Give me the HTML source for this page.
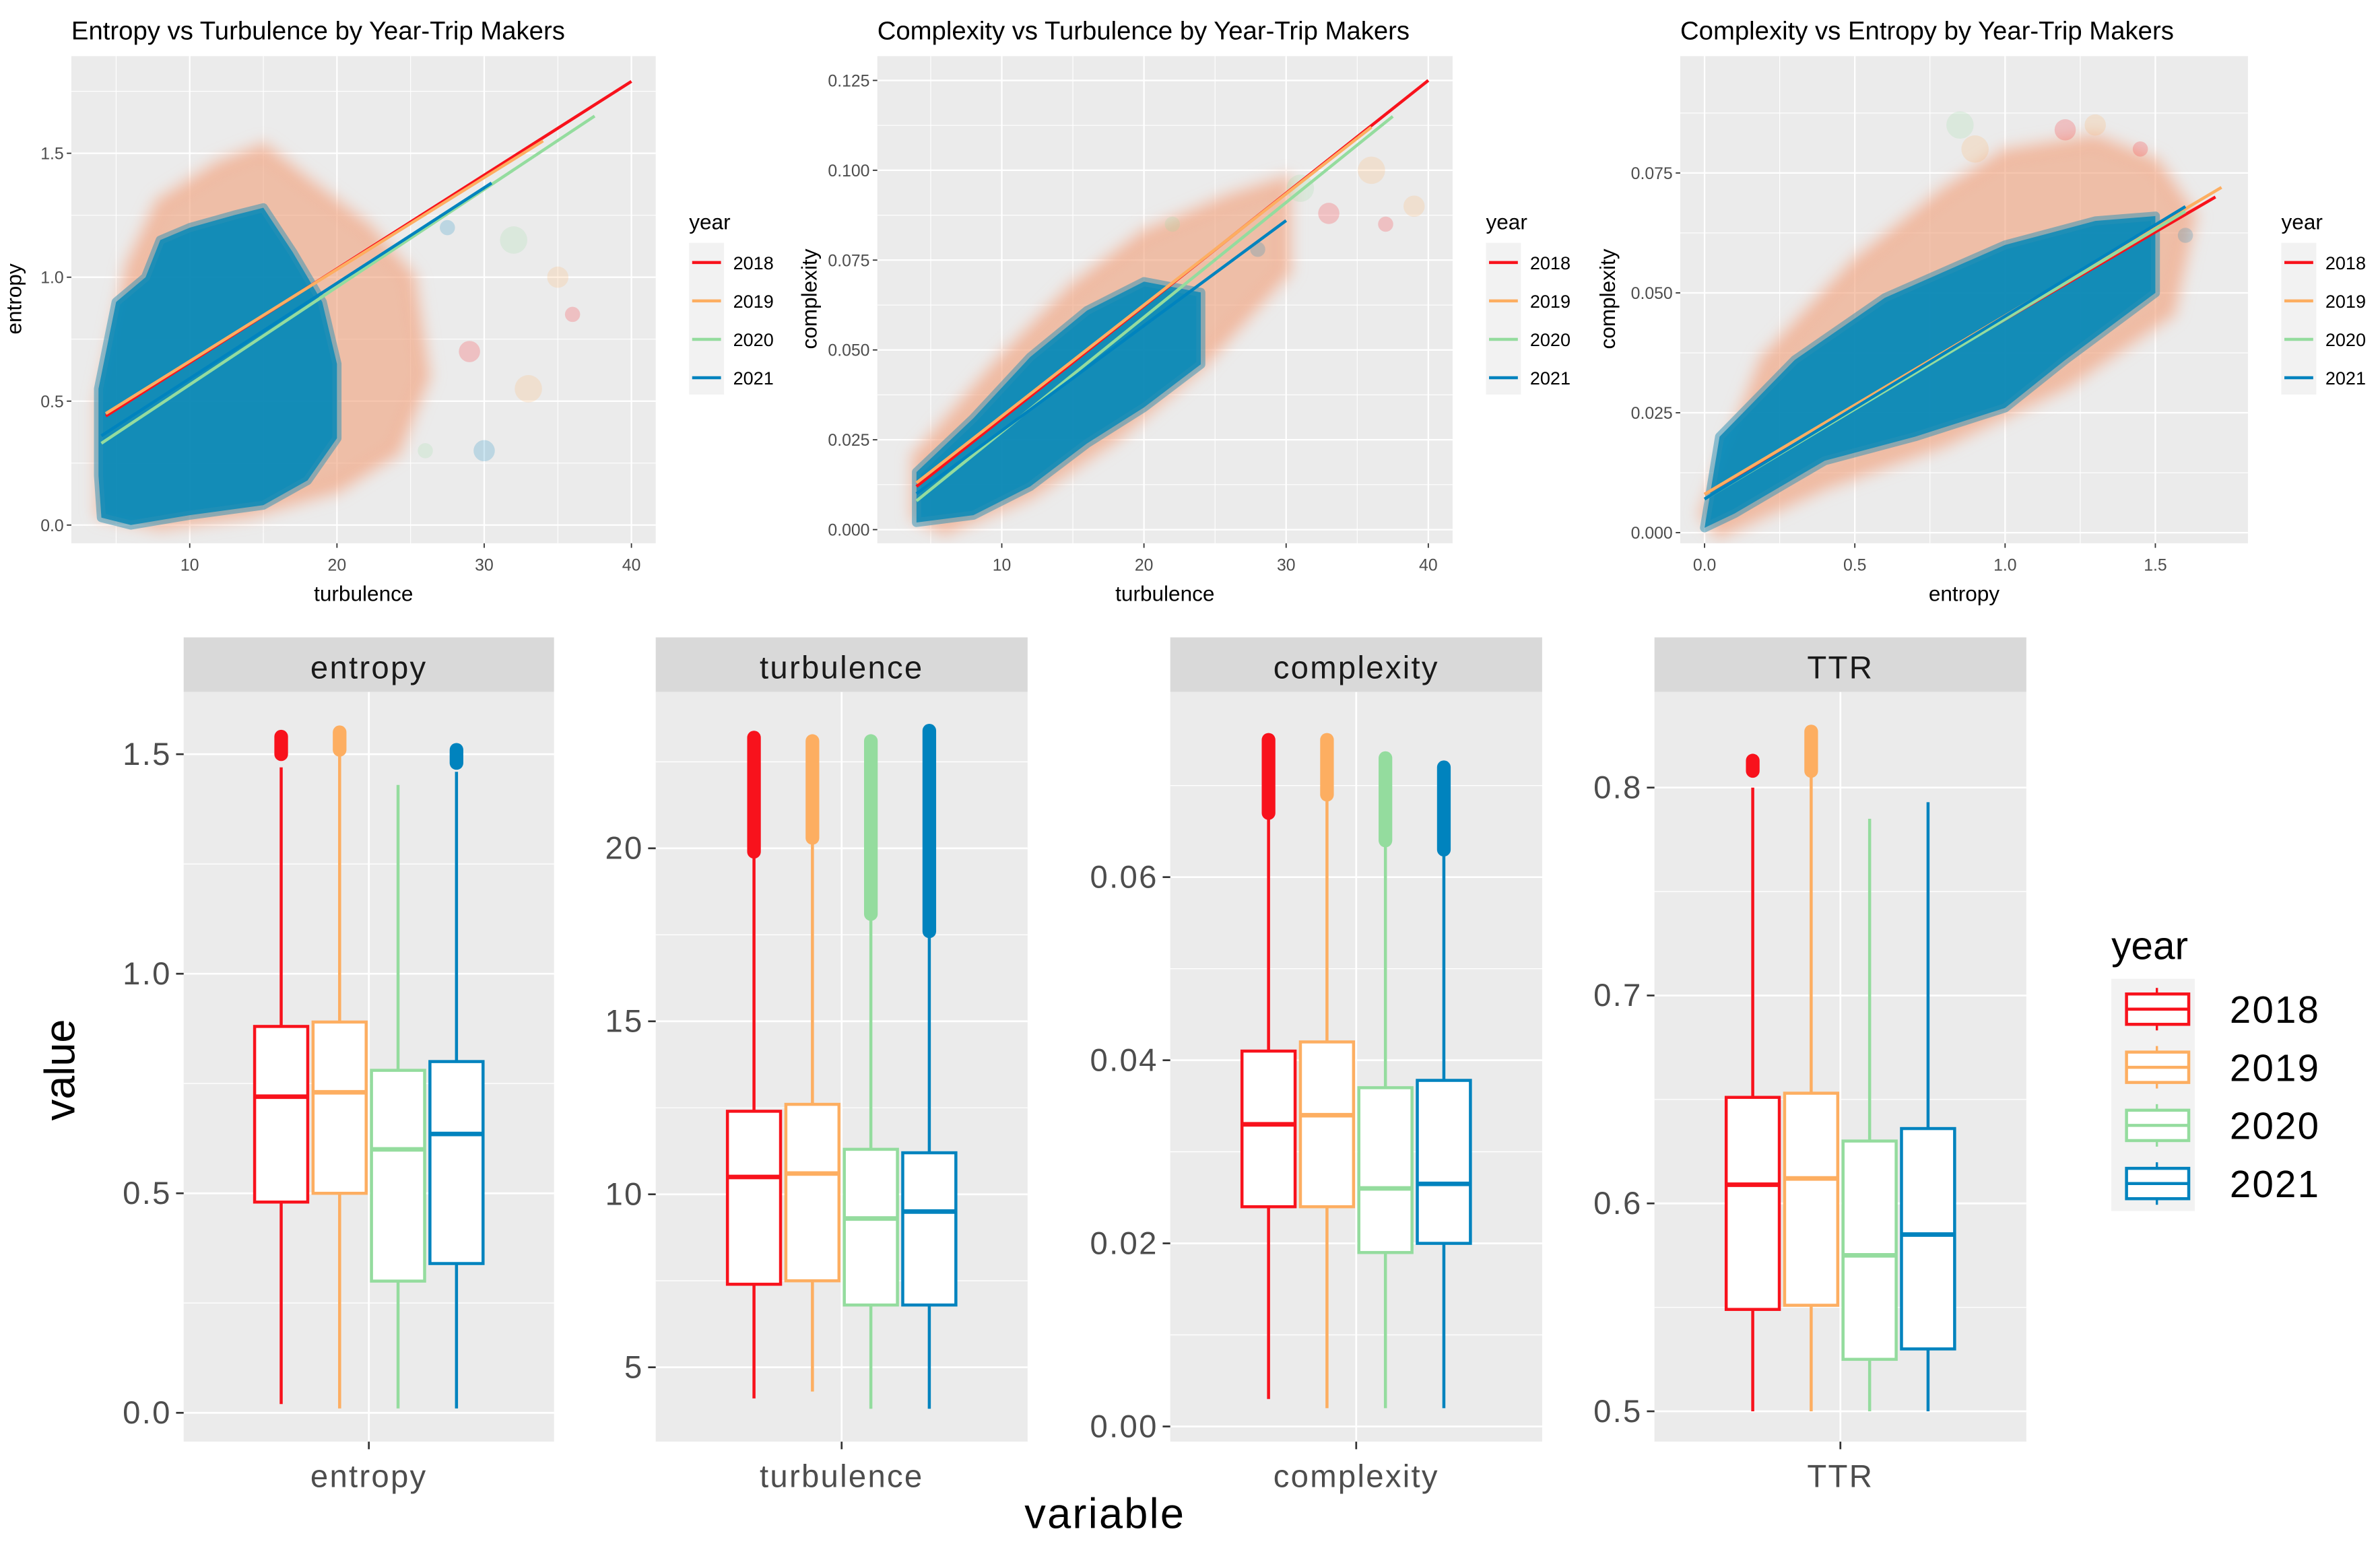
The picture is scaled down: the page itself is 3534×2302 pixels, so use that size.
<!DOCTYPE html>
<html><head><meta charset="utf-8">
<style>
html,body{margin:0;padding:0;background:#fff;}
svg{display:block;}
text{font-family:"Liberation Sans",sans-serif;}
.n{font-family:"Liberation Sans Narrow","Liberation Sans",sans-serif;}
</style></head>
<body>
<svg id="chart" width="3534" height="2302" viewBox="0 0 1568 1021.4" preserveAspectRatio="none" xmlns="http://www.w3.org/2000/svg"></svg>
<script>
// ---------- data ----------
const years = ["2018","2019","2020","2021"];
const colors = ["#f8121c","#fdae61","#94dc9e","#0083be"];

// scatter trend lines [x0,y0,x1,y1] per year
const lineEnt = [[4.3,0.44,40,1.79],[4.3,0.45,34,1.55],[4,0.33,37.5,1.65],[4,0.36,30.5,1.38]];
const lineCplxT = [[4,0.012,40,0.125],[4,0.013,36,0.112],[4,0.008,37.5,0.115],[4,0.010,30,0.086]];
const lineCplxE = [[0,0.008,1.70,0.070],[0,0.008,1.72,0.072],[0,0.007,1.60,0.067],[0,0.007,1.60,0.068]];

// cloud outlines (data units)
const haloEnt = [[4,0.5],[6,1.05],[8,1.3],[12,1.45],[15,1.52],[18,1.38],[22,1.2],[25,1.0],[26,0.6],[24,0.3],[20,0.15],[14,0.05],[8,0.0],[4,0.05]];
const coreEnt = [[3.8,0.55],[5,0.9],[7,1.0],[8,1.15],[10,1.2],[13,1.25],[15,1.28],[17,1.1],[19,0.9],[20,0.65],[20,0.35],[18,0.18],[15,0.08],[10,0.04],[6,0.0],[4,0.03],[3.8,0.2]];
const haloCT = [[4,0.02],[10,0.047],[15,0.067],[20,0.082],[26,0.092],[30,0.097],[30,0.072],[24,0.046],[18,0.026],[12,0.01],[6,0.0],[4,0.004]];
const coreCT = [[4,0.016],[8,0.031],[12,0.048],[16,0.061],[20,0.069],[24,0.066],[24,0.046],[20,0.034],[16,0.024],[12,0.012],[8,0.004],[4,0.002]];
const haloCE = [[0,0.004],[0.2,0.036],[0.5,0.056],[0.8,0.071],[1.0,0.079],[1.3,0.082],[1.5,0.077],[1.62,0.066],[1.55,0.046],[1.2,0.031],[0.8,0.019],[0.4,0.01],[0.05,0.0]];
const coreCE = [[0,0.001],[0.05,0.02],[0.3,0.036],[0.6,0.049],[1.0,0.06],[1.3,0.065],[1.5,0.066],[1.5,0.05],[1.2,0.036],[1.0,0.026],[0.7,0.02],[0.4,0.015],[0.1,0.004]];
const outEnt = [[36,0.85],[35,1.0],[32,1.15],[27.5,1.2],[29,0.7],[33,0.55],[26,0.3],[30,0.3]];
const outCT = [[37,0.085],[39,0.09],[31,0.095],[28,0.078],[33,0.088],[36,0.1],[22,0.085]];
const outCE = [[1.45,0.08],[1.3,0.085],[0.85,0.085],[1.6,0.062],[1.2,0.084],[0.9,0.08]];

// boxplot stats per year: [lo,q1,med,q3,hi,outMin,outMax]
const entStats = [[0.02,0.48,0.72,0.88,1.47,1.50,1.54],[0.01,0.50,0.73,0.89,1.50,1.51,1.55],[0.01,0.30,0.60,0.78,1.43,null,null],[0.01,0.34,0.635,0.80,1.46,1.48,1.51]];
const turbStats = [[4.1,7.4,10.5,12.4,19.9,19.9,23.2],[4.3,7.5,10.6,12.6,20.3,20.3,23.1],[3.8,6.8,9.3,11.3,18.1,18.1,23.1],[3.8,6.8,9.5,11.2,17.6,17.6,23.4]];
const cplxStats = [[0.003,0.024,0.033,0.041,0.067,0.067,0.075],[0.002,0.024,0.034,0.042,0.069,0.069,0.075],[0.002,0.019,0.026,0.037,0.064,0.064,0.073],[0.002,0.020,0.0265,0.0378,0.063,0.063,0.072]];
const ttrStats = [[0.50,0.549,0.609,0.651,0.800,0.808,0.813],[0.50,0.551,0.612,0.653,0.805,0.808,0.827],[0.50,0.525,0.575,0.630,0.785,null,null],[0.50,0.530,0.585,0.636,0.793,null,null]];

const entTicks=[0,0.5,1.0,1.5], turbTicks=[5,10,15,20], cplxTicks=[0,0.02,0.04,0.06], ttrTicks=[0.5,0.6,0.7,0.8];

// ---------- helpers ----------
const svg=document.getElementById('chart');
const NS="http://www.w3.org/2000/svg";
function mk(tag,attrs,parent,txt){const e=document.createElementNS(NS,tag);for(const k in attrs)e.setAttribute(k,attrs[k]);if(txt!==undefined)e.textContent=txt;(parent||svg).appendChild(e);return e;}
function lin(d0,d1,r0,r1){return v=>r0+(v-d0)*(r1-r0)/(d1-d0);}
const defs=mk('defs',{});
const fl=mk('filter',{id:'blur',x:'-10%',y:'-10%',width:'120%',height:'120%'},defs);
mk('feGaussianBlur',{stdDeviation:4},fl);

// ---------- scatter panels ----------
function scatter(o){
  const g=mk('g',{});
  
  
  const X=lin(o.xd[0],o.xd[1],o.xr[0],o.xr[1]), Y=lin(o.yd[0],o.yd[1],o.yr[0],o.yr[1]);
  const t=mk('text',{x:o.px0,y:26,'font-size':17,'class':'n',fill:'#000'},g,o.title);
  
  mk('rect',{x:o.px0,y:37,width:o.px1-o.px0,height:321,fill:'#ebebeb'},g);
  o.xt.forEach((v,i)=>{if(i<o.xt.length-1){const m=(v+o.xt[i+1])/2;mk('line',{x1:X(m),x2:X(m),y1:37,y2:358,stroke:'#fff','stroke-width':0.5},g);}});
  const xm0=o.xt[0]-(o.xt[1]-o.xt[0])/2; if(X(xm0)>o.px0) mk('line',{x1:X(xm0),x2:X(xm0),y1:37,y2:358,stroke:'#fff','stroke-width':0.5},g);
  o.yt.forEach((v,i)=>{const m=v+(o.yt[1]-o.yt[0])/2;if(Y(m)>37)mk('line',{x1:o.px0,x2:o.px1,y1:Y(m),y2:Y(m),stroke:'#fff','stroke-width':0.5},g);});
  o.xt.forEach(v=>{mk('line',{x1:X(v),x2:X(v),y1:37,y2:358,stroke:'#fff','stroke-width':1},g);
    mk('line',{x1:X(v),x2:X(v),y1:358,y2:361,stroke:'#333','stroke-width':0.8},g);
    const l=mk('text',{x:X(v),y:376,'font-size':11,'text-anchor':'middle',fill:'#4d4d4d','class':'n'},g,o.xl(v));
    });
  o.yt.forEach(v=>{mk('line',{x1:o.px0,x2:o.px1,y1:Y(v),y2:Y(v),stroke:'#fff','stroke-width':1},g);
    mk('line',{x1:o.px0-3,x2:o.px0,y1:Y(v),y2:Y(v),stroke:'#333','stroke-width':0.8},g);
    const l=mk('text',{x:o.px0-5,y:Y(v)+4,'font-size':11,'text-anchor':'end',fill:'#4d4d4d','class':'n'},g,o.yl(v));
    });
  const clip='c'+o.name; const cp=mk('clipPath',{id:clip},g); mk('rect',{x:o.px0,y:37,width:o.px1-o.px0,height:321},cp);
  const cg=mk('g',{'clip-path':'url(#'+clip+')'},g);
  const pts=a=>a.map(p=>X(p[0]).toFixed(1)+','+Y(p[1]).toFixed(1)).join(' ');
  const h=mk('polygon',{points:pts(o.halo),fill:'#f0a07c','fill-opacity':0.6,stroke:'#f5b090','stroke-width':12,'stroke-opacity':0.4,'stroke-linejoin':'round',filter:'url(#blur)'},cg);
  
  const c=mk('polygon',{points:pts(o.core),fill:'#0088b8','fill-opacity':0.92,stroke:'#2a8fb5','stroke-width':6,'stroke-opacity':0.5,'stroke-linejoin':'round'},cg);
  
  o.outs.forEach((p,i)=>{const pt=mk('circle',{cx:X(p[0]),cy:Y(p[1]),r:5+(i%3)*2,fill:colors[i%4],'fill-opacity':0.2},cg);
    });
  o.lines.forEach((L,i)=>{const ln=mk('line',{x1:X(L[0]),y1:Y(L[1]),x2:X(L[2]),y2:Y(L[3]),stroke:colors[i],'stroke-width':2},cg);
    });
  const xt=mk('text',{x:(o.px0+o.px1)/2,y:396,'font-size':14,'text-anchor':'middle','class':'n'},g,o.xlab);
  
  const yt=mk('text',{x:0,y:0,'font-size':14,'text-anchor':'middle','class':'n',transform:`translate(${o.px0-o.yoff},197) rotate(-90)`},g,o.ylab);
  
  const lg=mk('g',{},g);
  const lx=o.px1+22;
  mk('text',{x:lx,y:151,'font-size':14,'class':'n'},lg,'year');
  mk('rect',{x:lx,y:160,width:23,height:100,fill:'#f2f2f2'},lg);
  years.forEach((y,i)=>{const cy=173+i*25.3;
    const e=mk('g',{},lg);
    mk('line',{x1:lx+2,x2:lx+21,y1:cy,y2:cy,stroke:colors[i],'stroke-width':2},e);
    mk('text',{x:lx+29,y:cy+4.5,'font-size':12,'class':'n'},e,y);});
}
scatter({name:'entropy-vs-turbulence',title:'Entropy vs Turbulence by Year-Trip Makers',px0:47,px1:432,xd:[10,40],xr:[125,416],yd:[0,1.5],yr:[346,101],yoff:33,
  xt:[10,20,30,40],yt:[0,0.5,1.0,1.5],xl:v=>v,yl:v=>v.toFixed(1),halo:haloEnt,core:coreEnt,outs:outEnt,lines:lineEnt,xlab:'turbulence',ylab:'entropy'});
scatter({name:'complexity-vs-turbulence',title:'Complexity vs Turbulence by Year-Trip Makers',px0:578,px1:957,xd:[10,40],xr:[660,941],yd:[0,0.125],yr:[349,53],yoff:40,
  xt:[10,20,30,40],yt:[0,0.025,0.05,0.075,0.1,0.125],xl:v=>v,yl:v=>v.toFixed(3),halo:haloCT,core:coreCT,outs:outCT,lines:lineCplxT,xlab:'turbulence',ylab:'complexity'});
scatter({name:'complexity-vs-entropy',title:'Complexity vs Entropy by Year-Trip Makers',px0:1107,px1:1481,xd:[0,1.5],xr:[1123,1420],yd:[0,0.075],yr:[351,114],yoff:43,
  xt:[0,0.5,1.0,1.5],yt:[0,0.025,0.05,0.075],xl:v=>v.toFixed(1),yl:v=>v.toFixed(3),halo:haloCE,core:coreCE,outs:outCE,lines:lineCplxE,xlab:'entropy',ylab:'complexity'});

// ---------- boxplots ----------
function boxPanel(o){
  const g=mk('g',{});
  const Y=lin(o.yd[0],o.yd[1],o.yr[0],o.yr[1]);
  mk('rect',{x:o.x0,y:420,width:o.x1-o.x0,height:36,fill:'#d9d9d9'},g);
  const st=mk('text',{x:(o.x0+o.x1)/2,y:447,'font-size':21,'text-anchor':'middle',fill:'#1a1a1a','letter-spacing':1},g,o.label);
  
  mk('rect',{x:o.x0,y:456,width:o.x1-o.x0,height:494,fill:'#ebebeb'},g);
  const step=o.yt[1]-o.yt[0];
  o.yt.forEach(v=>{const m=v+step/2;if(Y(m)>456)mk('line',{x1:o.x0,x2:o.x1,y1:Y(m),y2:Y(m),stroke:'#fff','stroke-width':0.6},g);});
  const cx=(o.x0+o.x1)/2;
  mk('line',{x1:cx,x2:cx,y1:456,y2:950,stroke:'#fff','stroke-width':1.2},g);
  mk('line',{x1:cx,x2:cx,y1:950,y2:955,stroke:'#333','stroke-width':1.2},g);
  const xl=mk('text',{x:cx,y:980,'font-size':21,'text-anchor':'middle',fill:'#4d4d4d','letter-spacing':1},g,o.label);
  
  o.yt.forEach(v=>{mk('line',{x1:o.x0,x2:o.x1,y1:Y(v),y2:Y(v),stroke:'#fff','stroke-width':1.2},g);
    mk('line',{x1:o.x0-5,x2:o.x0,y1:Y(v),y2:Y(v),stroke:'#333','stroke-width':1.2},g);
    const t=mk('text',{x:o.x0-8,y:Y(v)+7,'font-size':21,'text-anchor':'end',fill:'#4d4d4d','letter-spacing':1},g,o.fmt(v));
    });
  const w=38.5, bw=35;
  o.stats.forEach((s,i)=>{const c=cx+(i-1.5)*w;
    const b=mk('g',{},g);
    const col=colors[i];
    mk('line',{x1:c,x2:c,y1:Y(s[0]),y2:Y(s[1]),stroke:col,'stroke-width':2},b);
    mk('line',{x1:c,x2:c,y1:Y(s[3]),y2:Y(s[4]),stroke:col,'stroke-width':2},b);
    mk('rect',{x:c-bw/2,y:Y(s[3]),width:bw,height:Y(s[1])-Y(s[3]),fill:'#fff',stroke:col,'stroke-width':2},b);
    mk('line',{x1:c-bw/2,x2:c+bw/2,y1:Y(s[2]),y2:Y(s[2]),stroke:col,'stroke-width':3},b);
    if(s[5]!==null){mk('line',{x1:c,x2:c,y1:Y(s[5]),y2:Y(s[6]),stroke:col,'stroke-width':9,'stroke-linecap':'round'},b);}
  });
}
boxPanel({label:'entropy',x0:121,x1:365,yd:[0,1.5],yr:[931,497],yt:entTicks,fmt:v=>v.toFixed(1),stats:entStats});
boxPanel({label:'turbulence',x0:432,x1:677,yd:[5,20],yr:[901,559],yt:turbTicks,fmt:v=>String(v),stats:turbStats});
boxPanel({label:'complexity',x0:771,x1:1016,yd:[0,0.06],yr:[940,578],yt:cplxTicks,fmt:v=>v.toFixed(2),stats:cplxStats});
boxPanel({label:'TTR',x0:1090,x1:1335,yd:[0.5,0.8],yr:[930,519],yt:ttrTicks,fmt:v=>v.toFixed(1),stats:ttrStats});

const vt=mk('text',{x:0,y:0,'font-size':28,'text-anchor':'middle',transform:'translate(49,705) rotate(-90)'},svg,'value');

const xt=mk('text',{x:728,y:1007,'font-size':28,'text-anchor':'middle','letter-spacing':1},svg,'variable');


// box legend
const bl=mk('g',{});
mk('text',{x:1391,y:632,'font-size':26},bl,'year');
mk('rect',{x:1391,y:645,width:55,height:153,fill:'#f2f2f2'},bl);
years.forEach((y,i)=>{const cy=665+i*38.3;
  const e=mk('g',{},bl);
  mk('line',{x1:1421,x2:1421,y1:cy-14,y2:cy+14,stroke:colors[i],'stroke-width':1.5},e);
  mk('rect',{x:1401,y:cy-10,width:41,height:20,fill:'#fff',stroke:colors[i],'stroke-width':2},e);
  mk('line',{x1:1401,x2:1442,y1:cy,y2:cy,stroke:colors[i],'stroke-width':2},e);
  mk('text',{x:1469,y:cy+9,'font-size':25,'letter-spacing':1},e,y);});
</script>
</body></html>
